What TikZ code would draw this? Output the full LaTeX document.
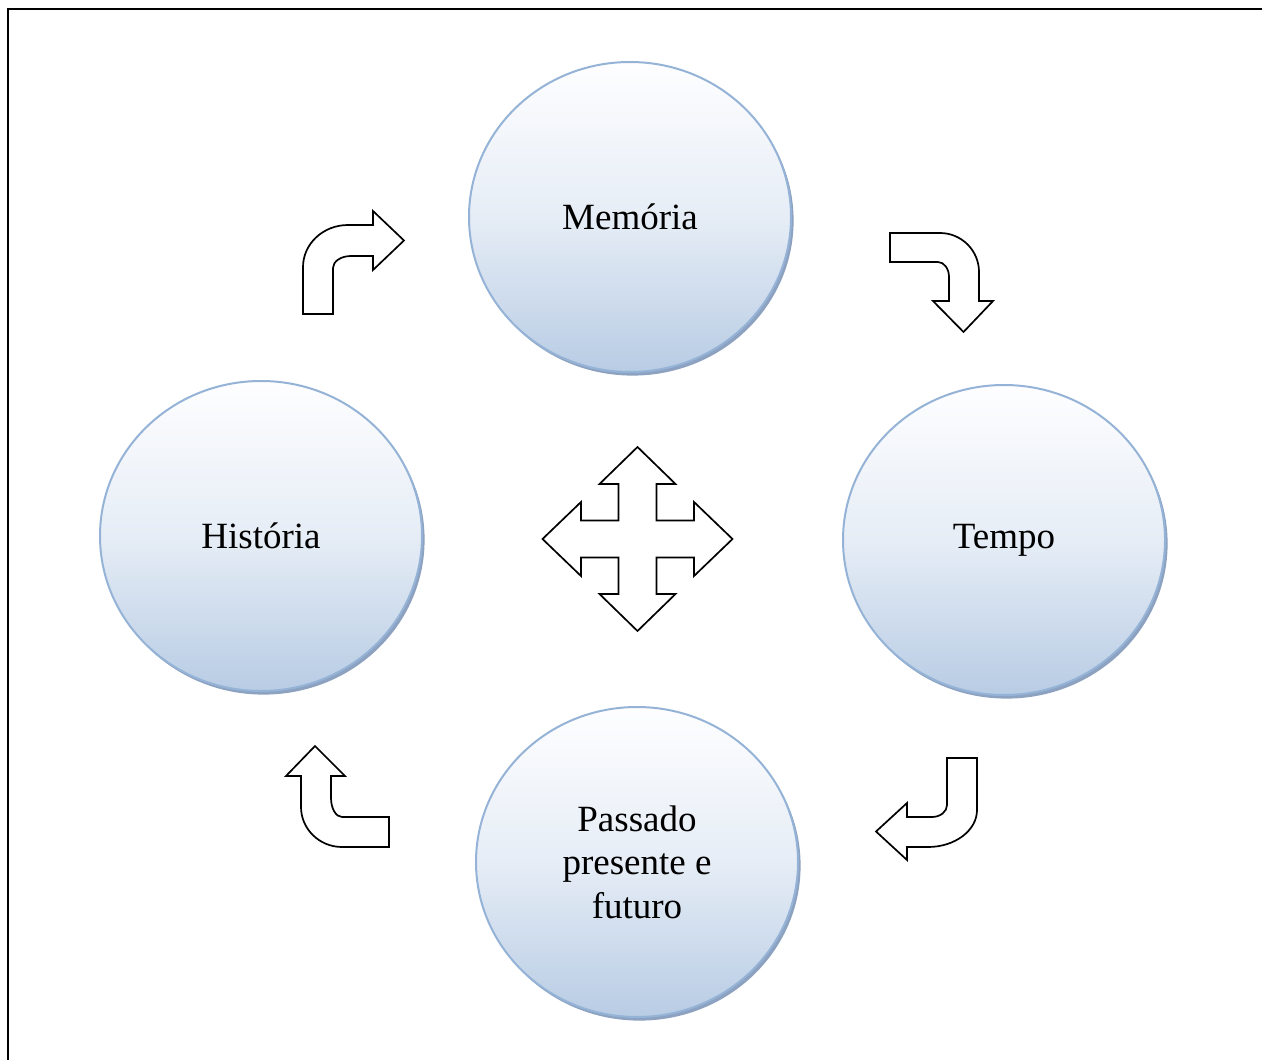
\documentclass[tikz,border=0pt]{standalone}
\usepackage{fontspec}
\setmainfont{Liberation Serif}
\usetikzlibrary{shapes.geometric,shadows}

\definecolor{circleline}{HTML}{95B3D7}
\definecolor{circletop}{HTML}{FEFEFF}
\definecolor{circlemiddle}{HTML}{E6EDF6}
\definecolor{circlebottom}{HTML}{B8CCE4}
\definecolor{circleshadow}{HTML}{8CA2C0}

\begin{document}
\begin{tikzpicture}[x=0.5pt,y=-0.5pt,
  bubble/.style={ellipse, draw=circleline, line width=1pt,
    top color=circletop, bottom color=circlebottom, middle color=circlemiddle,
    minimum width=161pt, minimum height=155pt, inner sep=0pt,
    align=center, font=\fontsize{18.5}{21.75}\selectfont,
    drop shadow={shadow xshift=1.3pt, shadow yshift=-1.8pt, fill=circleshadow, opacity=1}},
  blockarrow/.style={draw=black, fill=white, line width=0.85pt, line join=miter}]
%\draw [help lines] (0,0) grid (1262,1059);
\useasboundingbox (0,0) rectangle (1262,1059);

% frame
\draw [line width=1pt, line join=miter] (8,1070) -- (8,9.5) -- (1270,9.5);

% circles
\node [bubble] (memoria) at (630,217) {Memória};
\node [bubble] (historia) at (261,536) {História};
\node [bubble] (tempo) at (1004,540) {Tempo};
\node [bubble] (passado) at (637,862) {Passado\\presente e\\futuro};

% bent arrows
\draw [blockarrow] (303,314) -- (303,267) .. controls (303,244) and (323,225) .. (348,225)
  -- (373,225) -- (373,211) -- (404,240.5) -- (373,270) -- (373,256) -- (351,256)
  .. controls (341,256) and (333,261.4) .. (333,268) -- (333,314) -- cycle;

\draw [blockarrow] (890,233) -- (940,233) .. controls (961.5,233) and (979,250.5) .. (979,272)
  -- (979,301) -- (993,301) -- (963.5,332) -- (933,301) -- (949,301) -- (949,277)
  .. controls (949,268.7) and (944,262) .. (938,262) -- (890,262) -- cycle;

\draw [blockarrow] (947,758) -- (977,758) -- (977,810) .. controls (977,830.4) and (955,847) .. (928,847)
  -- (907,847) -- (907,860) -- (876,831.5) -- (907,803) -- (907,817) -- (932,817)
  .. controls (940.3,817) and (947,811.6) .. (947,805) -- cycle;

\draw [blockarrow] (389,817) -- (389,847) -- (342,847) .. controls (319.4,847) and (301,829) .. (301,807)
  -- (301,776) -- (286,776) -- (315,746) -- (345,776) -- (331,776) -- (331,798)
  .. controls (331,808.5) and (336,817) .. (342,817) -- cycle;

% four way arrow
\draw [blockarrow, shift={(637.5,539)}] (0,-92) -- (38,-55) -- (19,-55) -- (19,-18.5)
  -- (56.5,-18.5) -- (56.5,-37) -- (95,0) -- (56.5,37) -- (56.5,18.5) -- (19,18.5)
  -- (19,55) -- (38,55) -- (0,92) -- (-38,55) -- (-19,55) -- (-19,18.5)
  -- (-56.5,18.5) -- (-56.5,37) -- (-95,0) -- (-56.5,-37) -- (-56.5,-18.5)
  -- (-19,-18.5) -- (-19,-55) -- (-38,-55) -- cycle;

\end{tikzpicture}
\end{document}
